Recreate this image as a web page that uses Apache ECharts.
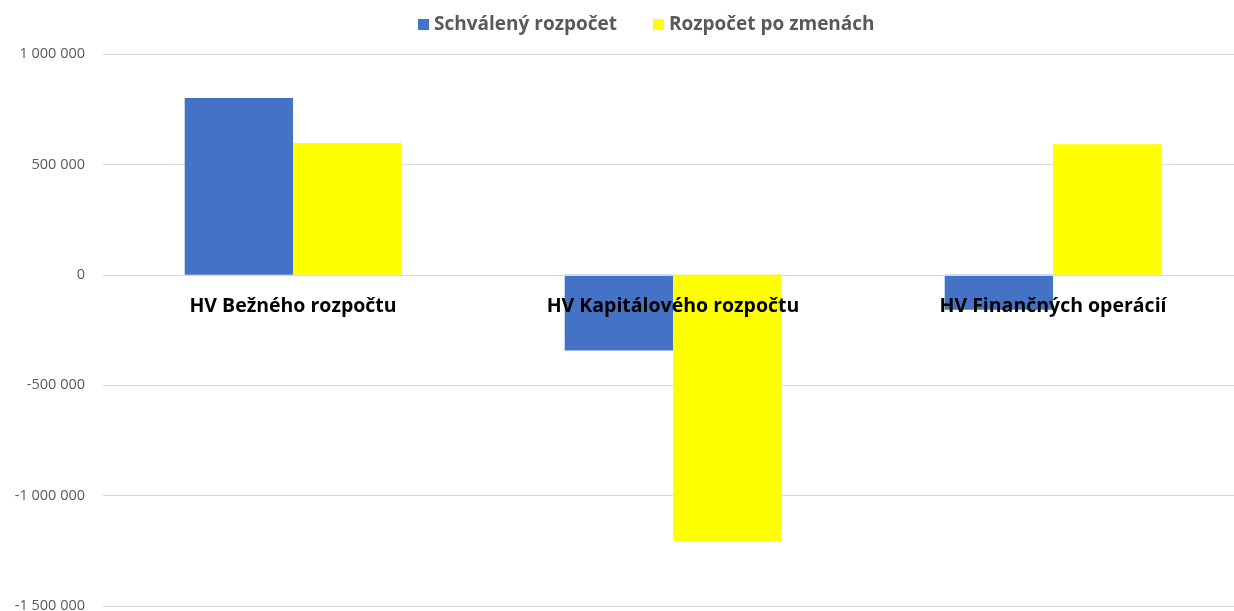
<!DOCTYPE html>
<html>
<head>
<meta charset="utf-8">
<script src="https://cdn.jsdelivr.net/npm/echarts@6/dist/echarts.min.js"></script>
<style>html,body{margin:0;padding:0;background:#fff}#c{width:1234px;height:611px}</style>
</head>
<body>
<div id="c"></div>
<script>
const categories = ['HV Bežného rozpočtu', 'HV Kapitálového rozpočtu', 'HV Finančných operácií'];
const seriesNames = ['Schválený rozpočet', 'Rozpočet po zmenách'];
const approved = [801000, -343000, -158000];
const afterChanges = [597000, -1207000, 591000];
const yTicks = { min: -1500000, max: 1000000, interval: 500000 };

function fmt(v) {
  const s = Math.abs(v).toString().replace(/\B(?=(\d{3})+(?!\d))/g, ' ');
  return (v < 0 ? '-' : '') + s;
}

const W = 1234, H = 611;
const grid = { left: 103, right: -9, top: 54, bottom: 5 };
const plotH = H - grid.top - grid.bottom;
// place category axis at value 0 (onZero equivalent)
const zeroOffset = -plotH * (0 - yTicks.min) / (yTicks.max - yTicks.min);

const chart = echarts.init(document.getElementById('c'));
chart.setOption({
  animation: false,
  legend: {
    top: 10,
    left: 413,
    itemWidth: 11,
    itemHeight: 11,
    itemGap: 36,
    icon: 'rect',
    textStyle: { fontFamily: 'Open Sans', fontWeight: 'bold', fontSize: 19, color: '#595959' },
    data: seriesNames
  },
  grid: Object.assign({ containLabel: false, outerBoundsMode: 'none' }, grid),
  xAxis: {
    type: 'category',
    data: categories,
    position: 'bottom',
    offset: zeroOffset,
    z: 10,
    axisLine: { show: true, onZero: false, lineStyle: { color: '#d9d9d9', width: 1 } },
    axisTick: { show: false },
    axisLabel: {
      show: true,
      interval: 0,
      margin: 22,
      fontFamily: 'Open Sans', fontWeight: 'bold', fontSize: 19.5, color: '#000'
    }
  },
  yAxis: {
    type: 'value',
    min: yTicks.min, max: yTicks.max, interval: yTicks.interval,
    axisLine: { show: false },
    axisTick: { show: false },
    splitLine: { lineStyle: { color: '#d9d9d9', width: 1 } },
    axisLabel: {
      margin: 18,
      fontFamily: 'Open Sans', fontSize: 14.5, color: '#595959',
      formatter: fmt
    }
  },
  series: [
    { name: seriesNames[0], type: 'bar', data: approved, itemStyle: { color: '#4472C4' }, barGap: '0%', barCategoryGap: '43%' },
    { name: seriesNames[1], type: 'bar', data: afterChanges, itemStyle: { color: '#FFFF00' }, barGap: '0%', barCategoryGap: '43%' }
  ]
});
</script>
</body>
</html>
